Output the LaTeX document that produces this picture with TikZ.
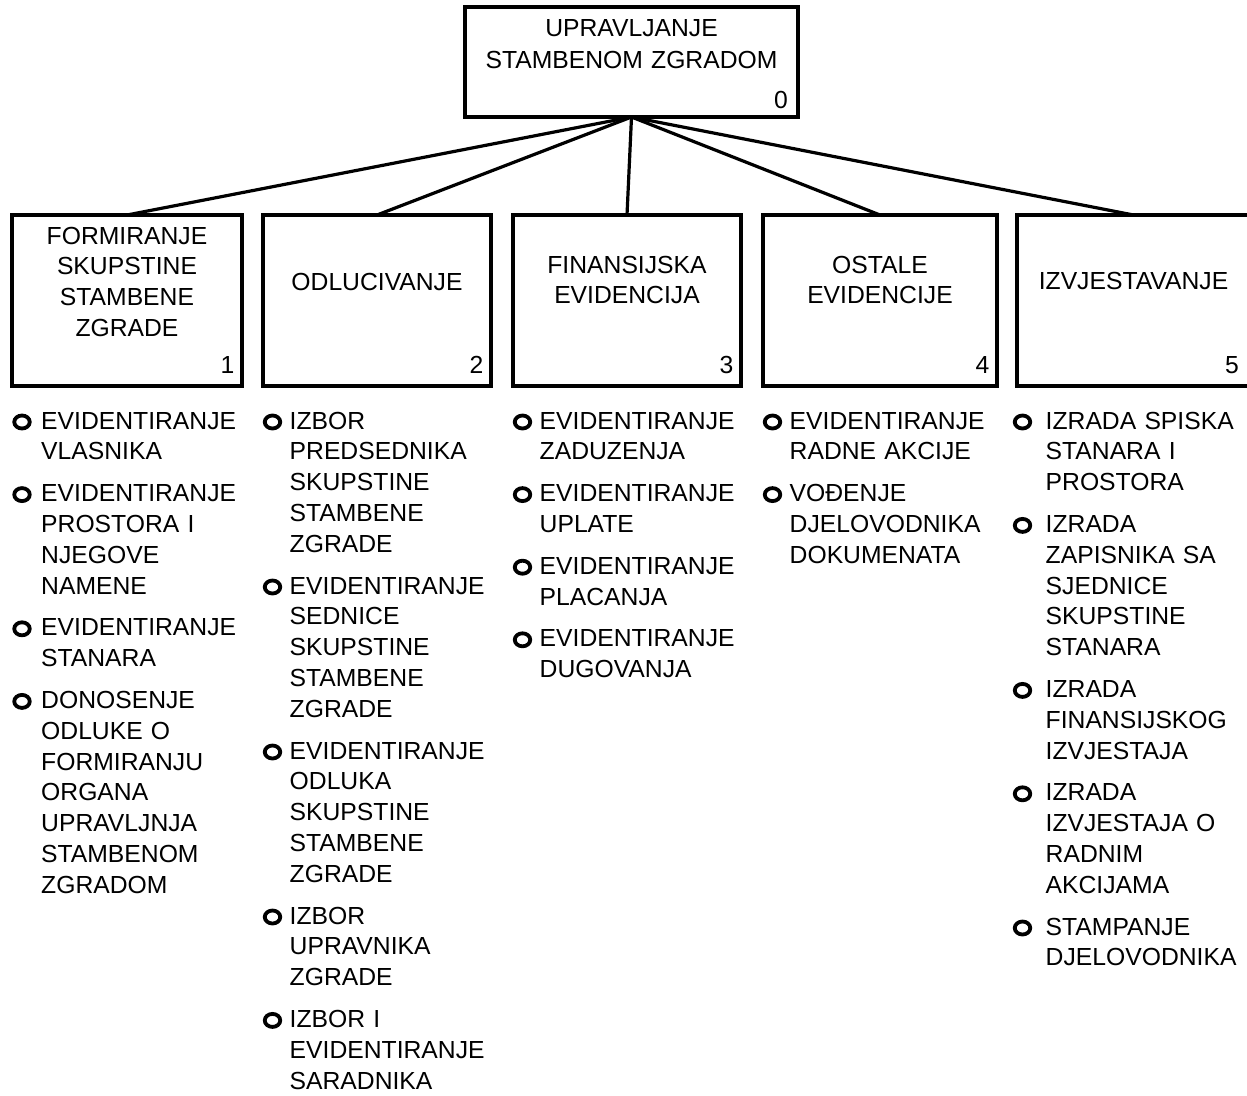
\documentclass[tikz,border=0pt]{standalone}
\usepackage{fontspec}
\setmainfont{Liberation Sans}
\usetikzlibrary{shapes.geometric}
\tikzset{
  box/.style={draw, line width=4pt, minimum height=171pt, outer sep=0pt, inner sep=0pt},
  title/.style={anchor=base, align=center, text width=220pt, inner sep=0pt},
  num/.style={anchor=base east, inner sep=0pt},
  item/.style={anchor=base west, align=left, text width=205pt, inner sep=0pt},
  dot/.style={draw, ellipse, line width=3.8pt, minimum width=15.5pt, minimum height=13pt, inner sep=0pt},
  link/.style={line width=3.2pt}
}
\begin{document}
\begin{tikzpicture}[x=1pt,y=-1pt,line join=miter,font=\fontsize{24.7}{30.8}\selectfont]
		\useasboundingbox (0,0) rectangle (1247,1095);
		% top box
		\node[box, minimum width=333pt, minimum height=110pt] (top) at (631.5,62) {};
		\node[title, text width=320pt, font=\fontsize{24.7}{32}\selectfont] (ttop) at (631.5,36) {UPRAVLJANJE\\STAMBENOM ZGRADOM};
		\node[num] (ntop) at ([xshift=-10pt,yshift=9pt]top.south east) {0};
		% second level
		\node[box, minimum width=230pt] (b1) at (127,300.5) {};
		\node[box, minimum width=228pt] (b2) at (377,300.5) {};
		\node[box, minimum width=228pt] (b3) at (627,300.5) {};
		\node[box, minimum width=234pt] (b4) at (880,300.5) {};
		\node[box, minimum width=233pt] (b5) at (1133.5,300.5) {};
		\node[title] (t1) at (127,244) {FORMIRANJE\\SKUPSTINE\\STAMBENE\\ZGRADE};
		\node[title] (t2) at (377,290) {ODLUCIVANJE};
		\node[title] (t3) at (627,273) {FINANSIJSKA\\EVIDENCIJA};
		\node[title] (t4) at (880,273) {OSTALE\\EVIDENCIJE};
		\node[title] (t5) at (1133.5,289) {IZVJESTAVANJE};
		\node[num] (n1) at ([xshift=-7.5pt,yshift=13pt]b1.south east) {1};
		\node[num] (n2) at ([xshift=-7.5pt,yshift=13pt]b2.south east) {2};
		\node[num] (n3) at ([xshift=-7.5pt,yshift=13pt]b3.south east) {3};
		\node[num] (n4) at ([xshift=-7.5pt,yshift=13pt]b4.south east) {4};
		\node[num] (n5) at ([xshift=-11pt,yshift=13pt]b5.south east) {5};
		\draw[link] (top.south) -- (b1.north);
		\draw[link] (top.south) -- (b2.north);
		\draw[link] (top.south) -- (b3.north);
		\draw[link] (top.south) -- (b4.north);
		\draw[link] (top.south) -- (b5.north);
		% column 1
		\node[dot] (d11) at (22,422) {};
		\node[dot] (d12) at (22,494.6) {};
		\node[dot] (d13) at (22,628.8) {};
		\node[dot] (d14) at (22,701.4) {};
		\node[item] (i11) at (41,429) {EVIDENTIRANJE\\VLASNIKA};
		\node[item] (i12) at (41,501.6) {EVIDENTIRANJE\\PROSTORA I\\NJEGOVE\\NAMENE};
		\node[item] (i13) at (41,635.8) {EVIDENTIRANJE\\STANARA};
		\node[item] (i14) at (41,708.4) {DONOSENJE\\ODLUKE O\\FORMIRANJU\\ORGANA\\UPRAVLJNJA\\STAMBENOM\\ZGRADOM};
		% column 2
		\node[dot] (d21) at (272.5,422) {};
		\node[dot] (d22) at (272.5,587) {};
		\node[dot] (d23) at (272.5,752) {};
		\node[dot] (d24) at (272.5,917) {};
		\node[dot] (d25) at (272.5,1020.4) {};
		\node[item] (i21) at (289.5,429) {IZBOR\\PREDSEDNIKA\\SKUPSTINE\\STAMBENE\\ZGRADE};
		\node[item] (i22) at (289.5,594) {EVIDENTIRANJE\\SEDNICE\\SKUPSTINE\\STAMBENE\\ZGRADE};
		\node[item] (i23) at (289.5,759) {EVIDENTIRANJE\\ODLUKA\\SKUPSTINE\\STAMBENE\\ZGRADE};
		\node[item] (i24) at (289.5,924) {IZBOR\\UPRAVNIKA\\ZGRADE};
		\node[item] (i25) at (289.5,1027.4) {IZBOR I\\EVIDENTIRANJE\\SARADNIKA};
		% column 3
		\node[dot] (d31) at (522.5,422) {};
		\node[dot] (d32) at (522.5,494.6) {};
		\node[dot] (d33) at (522.5,567.2) {};
		\node[dot] (d34) at (522.5,639.8) {};
		\node[item] (i31) at (539.5,429) {EVIDENTIRANJE\\ZADUZENJA};
		\node[item] (i32) at (539.5,501.6) {EVIDENTIRANJE\\UPLATE};
		\node[item] (i33) at (539.5,574.2) {EVIDENTIRANJE\\PLACANJA};
		\node[item] (i34) at (539.5,646.8) {EVIDENTIRANJE\\DUGOVANJA};
		% column 4
		\node[dot] (d41) at (772.5,422) {};
		\node[dot] (d42) at (772.5,494.6) {};
		\node[item] (i41) at (789.5,429) {EVIDENTIRANJE\\RADNE AKCIJE};
		\node[item] (i42) at (789.5,501.6) {VOĐENJE\\DJELOVODNIKA\\DOKUMENATA};
		% column 5
		\node[dot] (d51) at (1022.5,422) {};
		\node[dot] (d52) at (1022.5,525.4) {};
		\node[dot] (d53) at (1022.5,690.4) {};
		\node[dot] (d54) at (1022.5,793.8) {};
		\node[dot] (d55) at (1022.5,928) {};
		\node[item] (i51) at (1045.5,429) {IZRADA SPISKA\\STANARA I\\PROSTORA};
		\node[item] (i52) at (1045.5,532.4) {IZRADA\\ZAPISNIKA SA\\SJEDNICE\\SKUPSTINE\\STANARA};
		\node[item] (i53) at (1045.5,697.4) {IZRADA\\FINANSIJSKOG\\IZVJESTAJA};
		\node[item] (i54) at (1045.5,800.8) {IZRADA\\IZVJESTAJA O\\RADNIM\\AKCIJAMA};
		\node[item] (i55) at (1045.5,935) {STAMPANJE\\DJELOVODNIKA};
\end{tikzpicture}
\end{document}
